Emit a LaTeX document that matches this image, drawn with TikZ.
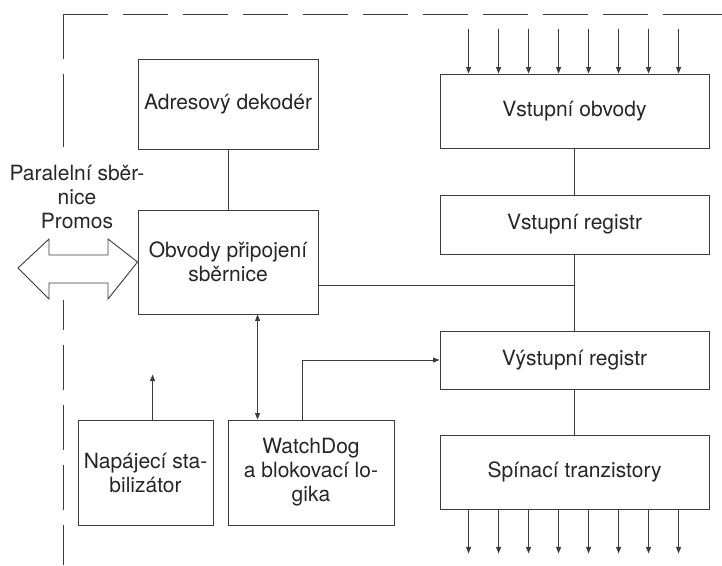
\documentclass[tikz,border=0pt]{standalone}
\usepackage{fontspec}
\setmainfont{TeX Gyre Heros}
\usetikzlibrary{arrows.meta}
\definecolor{ink}{HTML}{262626}
\definecolor{wire}{HTML}{3C3C3C}
\begin{document}
\begin{tikzpicture}[x=1pt,y=-1pt,
  font=\fontsize{21}{24}\selectfont,
  every node/.style={text=ink},
  blk/.style={draw=wire,line width=0.9pt,fill=white,align=center,inner sep=0pt,anchor=center},
  wire/.style={draw=wire,line width=0.9pt},
  tip/.style={-{Triangle[length=6.5pt,width=5pt]}},
  frame/.style={draw=wire,line width=0.9pt}]
\useasboundingbox (0,0) rectangle (722,565);

% module outline (dashed)
\draw[frame,dash pattern=on 45pt off 15pt] (63,14) -- (708,14);
\draw[frame] (663,14) -- (722,14);
\foreach \a/\b in {14/59,74/147,300/330,345/390,405/450,465/510,525/565}
  \draw[frame] (63,\a) -- (63,\b);

% blocks
\node[blk,minimum width=180pt,minimum height=90pt]  (adr)  at (228,104)   {Adresový dekodér};
\node[blk,minimum width=180pt,minimum height=104pt] (obv)  at (228,262)   {Obvody připojení\\sběrnice};
\node[blk,minimum width=269pt,minimum height=74pt]  (vin)  at (574.5,111) {Vstupní obvody};
\node[blk,minimum width=269pt,minimum height=59pt]  (vreg) at (574.5,224.5) {Vstupní registr};
\node[blk,minimum width=269pt,minimum height=58pt]  (vyst) at (574.5,360) {Výstupní registr};
\node[blk,minimum width=269pt,minimum height=74pt]  (spin) at (574.5,472) {Spínací tranzistory};
\node[blk,minimum width=135pt,minimum height=105pt] (nap)  at (145.5,472.5) {Napájecí sta-\\bilizátor};
\node[blk,minimum width=166pt,minimum height=105pt] (wd)   at (311,472.5) {WatchDog\\a blokovací lo-\\gika};

% bus label
\node[align=center,inner sep=0pt] (buslbl) at (77,197) {Paralelní sběr-\\nice\\Promos};

% parallel bus: hollow double arrow
\draw[wire,fill=white] (18,268) -- (49,239) -- (49,255) -- (108,255) -- (108,239)
  -- (obv.west) -- (108,299) -- (108,283) -- (49,283) -- (49,299) -- cycle;

% internal connections
\draw[wire] (adr) -- (obv);
\draw[wire] (vin) -- (vreg);
\draw[wire] (vreg) -- (vyst);
\draw[wire] (vyst) -- (spin);
\draw[wire] ([yshift=-23pt]obv.east) -- ([yshift=-23pt]obv.east -| vreg.south);
\draw[wire,tip] ([xshift=75pt]wd.north west) |- (vyst.west);
\draw[wire,{Triangle[length=6.5pt,width=5pt]}-{Triangle[length=6.5pt,width=5pt]}]
  ([xshift=30pt]wd.north west |- obv.south) -- ([xshift=30pt]wd.north west);
\coordinate (pwr) at ([xshift=75pt,yshift=45pt]nap.north west);
\draw[wire,tip] ([xshift=75pt]nap.north west) -- (pwr);

% inputs and outputs
\foreach \k in {0,...,7}{
  \coordinate (in\k) at ([xshift=29pt+30pt*\k,yshift=45pt]vin.north west);
  \draw[wire,tip] (in\k) -- ([xshift=29pt+30pt*\k]vin.north west);
  \coordinate (out\k) at ([xshift=29pt+30pt*\k,yshift=-44pt]spin.south west);
  \draw[wire,tip] ([xshift=29pt+30pt*\k]spin.south west) -- (out\k);
}
\end{tikzpicture}
\end{document}
